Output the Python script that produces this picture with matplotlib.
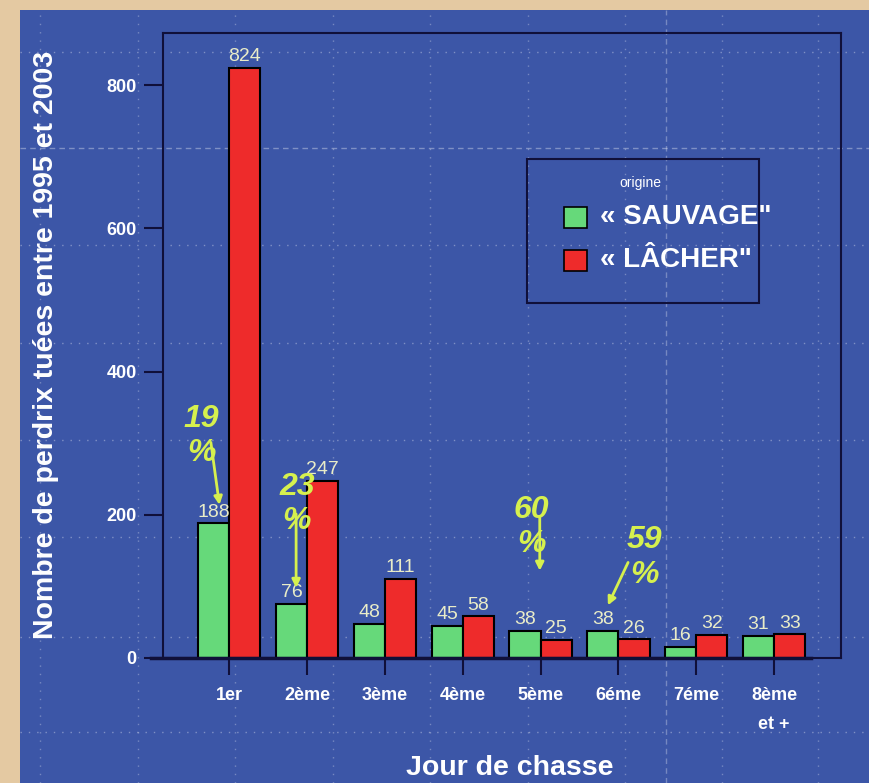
import matplotlib
matplotlib.use("Agg")
import matplotlib.pyplot as plt
from matplotlib.patches import Rectangle
from matplotlib.lines import Line2D
import numpy as np

jours = ["1er", "2ème", "3ème", "4ème", "5ème", "6éme", "7éme", "8ème\net +"]
sauvage = [188, 76, 48, 45, 38, 38, 16, 31]
lacher = [824, 247, 111, 58, 25, 26, 32, 33]
noms = ["« SAUVAGE\"", "« LÂCHER\""]
couleurs = ["#66d97a", "#ee2b2b"]

# pourcentages annotés (texte, position texte, départ et pointe de flèche)
pourcents = ["19", "23", "60", "59"]
txt_xy = [(-0.36, 310), (0.87, 215), (3.88, 183), (5.33, 140)]
fleche_dep = [(-0.24, 305), (0.86, 205), (3.99, 200), (5.14, 137)]
fleche_arr = [(-0.12, 210), (0.86, 94), (3.99, 118), (4.85, 70)]

bleu = "#3c56a7"
beige = "#e4c9a2"
jaune = "#d6f04e"
police = ["Liberation Sans", "DejaVu Sans"]

W, H = 870, 783
fig = plt.figure(figsize=(W / 100, H / 100), dpi=100, facecolor=beige)
fig.add_artist(Rectangle((20 / W, 0), 1, 1 - 10 / H, transform=fig.transFigure,
                         facecolor=bleu, edgecolor="none", zorder=-5))

# quadrillage du fond de la diapo
for py in [52, 148, 245, 343, 440, 537, 637, 732]:
    ls = (0, (4, 3)) if py == 148 else (0, (1, 5))
    fig.add_artist(Line2D([20 / W, 1], [1 - py / H] * 2, transform=fig.transFigure,
                          color="white", alpha=0.35, lw=1, ls=ls, zorder=-4))
for px in [40, 138, 235, 333, 430, 528, 625, 666, 722, 818]:
    ls = (0, (4, 3)) if px == 666 else (0, (1, 5))
    fig.add_artist(Line2D([px / W] * 2, [0, 1 - 10 / H], transform=fig.transFigure,
                          color="white", alpha=0.3, lw=1, ls=ls, zorder=-4))

ax = fig.add_axes([163 / W, 125 / H, 678 / W, 625 / H])
ax.set_facecolor("none")

x = np.arange(len(jours))
w = 0.4
b1 = ax.bar(x - w / 2, sauvage, w, color=couleurs[0], edgecolor="black", lw=1.5, zorder=3)
b2 = ax.bar(x + w / 2, lacher, w, color=couleurs[1], edgecolor="black", lw=1.5, zorder=3)

for bars, vals in [(b1, sauvage), (b2, lacher)]:
    for r, v in zip(bars, vals):
        ax.text(r.get_x() + r.get_width() / 2, v + 4, str(v), ha="center", va="bottom",
                color="#e9ecc8", fontsize=14, family=police, zorder=4)

ax.set_xlim(-0.85, 7.86)
ax.set_ylim(0, 873)
ax.set_yticks([0, 200, 400, 600, 800])
ax.set_xticks(x)
ax.set_xticklabels(jours, fontsize=13, fontweight="bold", color="white", family=police,
                   linespacing=1.9, va="top")
ax.set_yticklabels(["0", "200", "400", "600", "800"], fontsize=13, fontweight="bold",
                   color="white", family=police)
ax.tick_params(axis="y", length=14, width=1.5, color="#10103a", pad=5)
ax.tick_params(axis="x", length=12, width=1.5, color="#10103a", pad=9)
for s in ax.spines.values():
    s.set_color("#10103a")
    s.set_linewidth(1.5)
ax.plot([-1.01, 7.47], [0, 0], color="#10103a", lw=2.5, clip_on=False, zorder=4)

for t, (tx, ty), a, b in zip(pourcents, txt_xy, fleche_dep, fleche_arr):
    ax.text(tx, ty, t + "\n%", ha="center", va="center", color=jaune, fontsize=23,
            fontweight="bold", style="italic", family=police,
            linespacing=1.2, zorder=6)
    ax.annotate("", xy=b, xytext=a,
                arrowprops=dict(arrowstyle="-|>", color=jaune, lw=2, mutation_scale=12),
                zorder=6)

# légende
fig.add_artist(Rectangle((527 / W, 1 - 303 / H), 232 / W, 144 / H, transform=fig.transFigure,
                         facecolor="none", edgecolor="#10103a", lw=1.5, zorder=5))
fig.text(640 / W, 1 - 183 / H, "origine", ha="center", va="center", color="white",
         fontsize=10, family=police)
for i, (nom, c) in enumerate(zip(noms, couleurs)):
    py = 217 + i * 43
    fig.add_artist(Rectangle((564 / W, 1 - (py + 11) / H), 23 / W, 21 / H,
                             transform=fig.transFigure, facecolor=c,
                             edgecolor="black", lw=1.2, zorder=5))
    fig.text(600 / W, 1 - py / H, nom, ha="left", va="center", color="white",
             fontsize=20, fontweight="bold", family=police)

fig.text(46 / W, 1 - 345 / H, "Nombre de perdrix tuées entre 1995 et 2003", rotation=90,
         ha="center", va="center", color="white", fontsize=20.5, fontweight="bold",
         family=police)
fig.text(510 / W, 1 - 768 / H, "Jour de chasse", ha="center", va="center", color="white",
         fontsize=20.5, fontweight="bold", family=police)

fig.savefig("out.png", dpi=100, facecolor=beige)
